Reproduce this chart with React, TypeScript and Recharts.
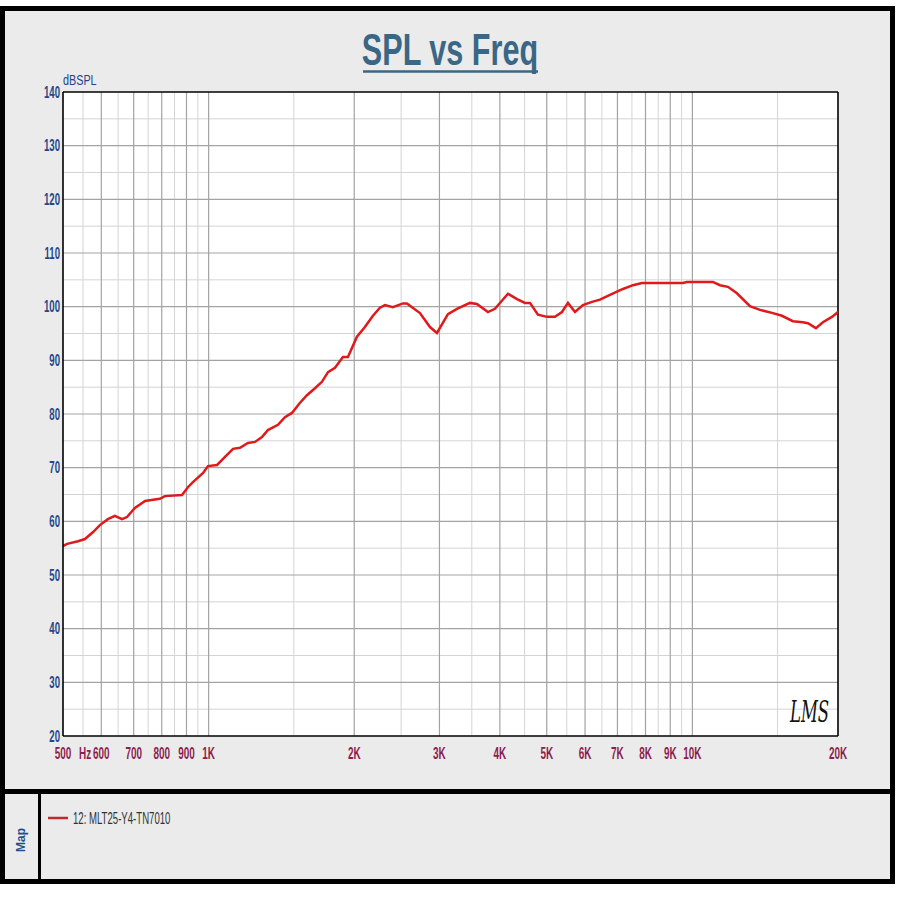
import { LineChart, Line, XAxis, YAxis, ReferenceLine, ReferenceArea } from 'recharts';

// frequency response (Hz, dBSPL)
const freqHz = [
    500, 510, 537, 555, 577, 596, 619, 640, 662, 678, 704, 739, 793, 812, 881, 907, 928, 974, 997,
    1041, 1081, 1123, 1161, 1206, 1247, 1289, 1326, 1391, 1438, 1487, 1545, 1597, 1659, 1715, 1765,
    1825, 1895, 1941, 2026, 2104, 2186, 2260, 2315, 2404, 2522, 2570, 2734, 2868, 2965, 3124, 3261,
    3469, 3586, 3779, 3907, 4157, 4340, 4508, 4616, 4795, 5005, 5199, 5375, 5531, 5719, 5940, 6201,
    6441, 6755, 7186, 7536, 7866, 9561, 9744, 11029, 11402, 11843, 12362, 13152, 13792, 14672, 15314,
    16137, 16922, 17329, 18003, 18612, 19428, 20000,
];
const splDb = [
    55.4, 55.8, 56.3, 56.7, 58.0, 59.3, 60.4, 61.0, 60.4, 60.8, 62.5, 63.8, 64.2, 64.7, 64.9, 66.4, 67.3, 69.0, 70.3,
    70.5, 72.0, 73.5, 73.7, 74.6, 74.8, 75.7, 77.0, 78.0, 79.4, 80.2, 82.1, 83.5, 84.8, 86.0, 87.8,
    88.6, 90.6, 90.6, 94.4, 96.2, 98.3, 99.8, 100.3, 99.9, 100.6, 100.6, 98.8, 96.2, 95.1, 98.6, 99.6,
    100.7, 100.5, 99.0, 99.6, 102.4, 101.4, 100.7, 100.7, 98.5, 98.1, 98.1, 99.0, 100.7, 99.0, 100.3, 100.9,
    101.3, 102.2, 103.3, 104.0, 104.4, 104.4, 104.6, 104.6, 104.0, 103.7, 102.5, 100.1, 99.4, 98.8, 98.3,
    97.3, 97.1, 96.9, 96.0, 97.1, 98.1, 99.0,
];

const xTicks = [500, 600, 700, 800, 900, 1000, 2000, 3000, 4000, 5000, 6000, 7000, 8000, 9000, 10000, 20000];
const xMajorGrid = [600, 700, 800, 900, 1000, 2000, 3000, 4000, 5000, 6000, 7000, 8000, 9000, 10000];
const xMinorGrid = [550, 650, 750, 850, 950, 1500, 2500, 3500, 4500, 5500, 6500, 7500, 8500, 9500, 15000];
const yTicks = [20, 30, 40, 50, 60, 70, 80, 90, 100, 110, 120, 130, 140];
const yMajorGrid = [30, 40, 50, 60, 70, 80, 90, 100, 110, 120, 130];
const yMinorGrid = [25, 35, 45, 55, 65, 75, 85, 95, 105, 115, 125, 135];

const seriesName = '12: MLT25-Y4-TN7010';

const data = freqHz.map((f, i) => ({ f, spl: splDb[i] }));

const FONT = '"Liberation Sans", Arial, sans-serif';

function fmtFreq(v: number) {
    return v >= 1000 ? `${v / 1000}K` : `${v}`;
}

function XTick(props: any) {
    const { x, y, payload } = props;
    return (
        <g transform={`translate(${x},${y + 15}) scale(0.62,1)`}>
            <text textAnchor="middle" fill="#8c1d4e" fontFamily={FONT} fontWeight="bold" fontSize={16}>
                {fmtFreq(payload.value)}
            </text>
        </g>
    );
}

function YTick(props: any) {
    const { x, y, payload } = props;
    return (
        <g transform={`translate(${x + 5},${y + 5.5}) scale(0.6,1)`}>
            <text textAnchor="end" fill="#24468a" fontFamily={FONT} fontWeight="bold" fontSize={16}>
                {payload.value}
            </text>
        </g>
    );
}

export default function App() {
    return (
        <div style={{ position: 'absolute', left: 0, top: 0, width: 900, height: 900, background: '#fff', overflow: 'hidden' }}>
            {/* frame panels */}
            <div style={{ position: 'absolute', left: 0, top: 6, width: 895, height: 878, boxSizing: 'border-box', border: '5px solid #000', background: '#ebebeb' }} />
            <div style={{ position: 'absolute', left: 0, top: 789, width: 895, height: 5, background: '#000' }} />
            <div style={{ position: 'absolute', left: 38, top: 792, width: 3, height: 88, background: '#000' }} />

            <div style={{ position: 'absolute', left: 0, top: 0 }}>
                <LineChart width={900} height={900} data={data} margin={{ top: 92, right: 62, bottom: 134, left: 43 }}>
                    <ReferenceArea x1={500} x2={20000} y1={20} y2={140} fill="#fff" fillOpacity={1} stroke="none" />
                    {yMinorGrid.map((v) => (
                        <ReferenceLine key={`ym${v}`} y={v} stroke="#d4d4d4" strokeWidth={1} />
                    ))}
                    {xMinorGrid.map((v) => (
                        <ReferenceLine key={`xm${v}`} x={v} stroke="#d4d4d4" strokeWidth={1} />
                    ))}
                    {yMajorGrid.map((v) => (
                        <ReferenceLine key={`yM${v}`} y={v} stroke="#a3a3a3" strokeWidth={1.2} />
                    ))}
                    {xMajorGrid.map((v) => (
                        <ReferenceLine key={`xM${v}`} x={v} stroke="#a3a3a3" strokeWidth={1.2} />
                    ))}
                    <XAxis
                        dataKey="f"
                        type="number"
                        scale="log"
                        domain={[500, 20000]}
                        ticks={xTicks}
                        interval={0}
                        allowDataOverflow
                        height={30}
                        tickLine={false}
                        axisLine={{ stroke: '#000', strokeWidth: 1.6 }}
                        tick={<XTick />}
                    />
                    <YAxis
                        type="number"
                        domain={[20, 140]}
                        ticks={yTicks}
                        interval={0}
                        width={20}
                        tickLine={false}
                        axisLine={{ stroke: '#000', strokeWidth: 1.6 }}
                        tick={<YTick />}
                    />
                    <ReferenceLine y={140} stroke="#000" strokeWidth={1.6} />
                    <ReferenceLine x={20000} stroke="#000" strokeWidth={1.6} />
                    <Line
                        dataKey="spl"
                        name={seriesName}
                        type="linear"
                        stroke="#e01a1a"
                        strokeWidth={2.5}
                        dot={false}
                        isAnimationActive={false}
                    />
                </LineChart>
            </div>

            {/* titles, unit labels, legend */}
            <svg width={900} height={900} style={{ position: 'absolute', left: 0, top: 0, pointerEvents: 'none' }}>
                <g transform="translate(450,65) scale(0.68,1)">
                    <text textAnchor="middle" fill="#3a6785" fontFamily={FONT} fontWeight="bold" fontSize={45}>
                        SPL vs Freq
                    </text>
                </g>
                <line x1={363} x2={538} y1={71.5} y2={71.5} stroke="#3a6785" strokeWidth={2.5} />
                <g transform="translate(63,85) scale(0.72,1)">
                    <text fill="#24468a" fontFamily={FONT} fontSize={15}>dBSPL</text>
                </g>
                <g transform="translate(79,759) scale(0.62,1)">
                    <text fill="#8c1d4e" fontFamily={FONT} fontWeight="bold" fontSize={16}>Hz</text>
                </g>
                <g transform="translate(790,722) scale(0.55,1)">
                    <text fill="#111" fontFamily='"DejaVu Serif", serif' fontStyle="italic" fontSize={30}>LMS</text>
                </g>
                <line x1={48} x2={68} y1={818} y2={818} stroke="#c0282d" strokeWidth={2.5} />
                <g transform="translate(73,824) scale(0.6,1)">
                    <text fill="#333" fontFamily={FONT} fontSize={16}>{seriesName}</text>
                </g>
                <g transform="translate(25,840) rotate(-90)">
                    <text textAnchor="middle" fill="#1f4e8c" fontFamily={FONT} fontWeight="bold" fontSize={12}>Map</text>
                </g>
            </svg>
        </div>
    );
}
